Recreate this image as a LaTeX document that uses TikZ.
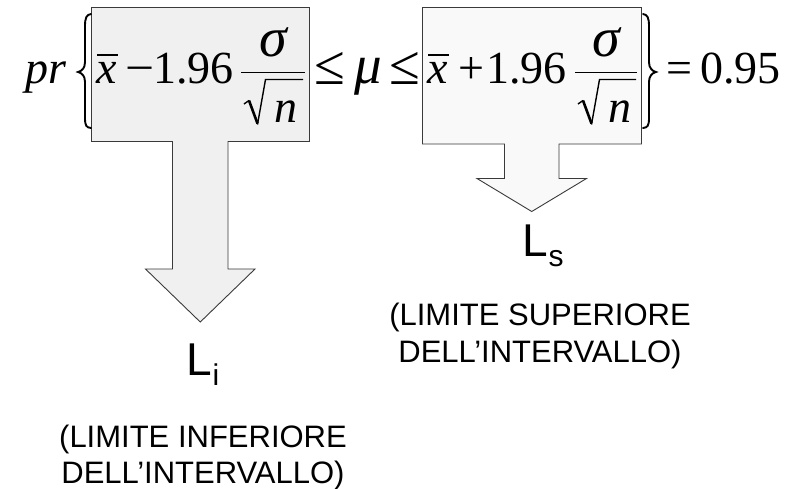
\documentclass[tikz,border=0pt]{standalone}
\usepackage{fontspec}
\setmainfont{Liberation Serif}
\newfontfamily\labelfont{Liberation Sans}
\definecolor{lbox}{HTML}{F0F0F0}
\definecolor{rbox}{HTML}{F9F9F9}
\definecolor{edge}{HTML}{3A3A3A}
\tikzset{
  blockarrow/.style={draw=edge, line width=0.9pt, line join=miter},
  formula/.style={font=\fontsize{46}{46}\selectfont, inner sep=0pt, anchor=base west},
  iformula/.style={font=\fontsize{46}{46}\selectfont\itshape, inner sep=0pt, anchor=base west},
  relsign/.style={font=\fontsize{56}{56}\selectfont, inner sep=0pt, anchor=base west},
  greek/.style={font=\fontsize{56}{56}\selectfont\itshape, inner sep=0pt, anchor=base},
  greekw/.style={font=\fontsize{55}{55}\selectfont\itshape, inner sep=0pt, anchor=base west},
  stroke/.style={line width=1.8pt, line cap=butt},
  thinstroke/.style={line width=1.4pt, line join=miter},
  bracestroke/.style={line width=1.9pt, line cap=round},
  biglabel/.style={font=\labelfont\fontsize{46}{46}\selectfont, inner sep=0pt, anchor=base west},
  sublabel/.style={font=\labelfont\fontsize{30}{30}\selectfont, inner sep=0pt, anchor=base west},
  notelabel/.style={font=\labelfont\fontsize{31}{31}\selectfont, inner sep=0pt, anchor=base}
}
\begin{document}
\begin{tikzpicture}[x=1pt,y=-1pt]
\useasboundingbox (0,0) rectangle (809,488);
\fill[white] (0,0) rectangle (809,488);

% block shapes (box + arrow)
\draw[blockarrow, fill=lbox] (91.5,7.5) -- (309.5,7.5) -- (309.5,141.5) -- (228,141.5) -- (228,269)
  -- (255,269) -- (200.25,322) -- (145.5,269) -- (172.5,269) -- (172.5,141.5) -- (91.5,141.5) -- cycle;
\draw[blockarrow, fill=rbox] (422.5,7.5) -- (641.5,7.5) -- (641.5,144) -- (559,144) -- (559,178.5)
  -- (586.5,178.5) -- (531.75,211.5) -- (477,178.5) -- (504.5,178.5) -- (504.5,144) -- (422.5,144) -- cycle;

% braces
\draw[bracestroke] (91,14) .. controls (86.5,14.5) and (85,18) .. (85,26) -- (85,62)
  .. controls (85,68) and (82,71) .. (78,72) .. controls (82,73) and (85,76) .. (85,82)
  -- (85,118) .. controls (85,126) and (86.5,127.5) .. (91,128);
\draw[bracestroke] (643,14) .. controls (647.5,14.5) and (649,18) .. (649,26) -- (649,62)
  .. controls (649,68) and (652,71) .. (656,72) .. controls (652,73) and (649,76) .. (649,82)
  -- (649,118) .. controls (649,126) and (647.5,127.5) .. (643,128);

% formula
\node[iformula] (pr) at (25,83.5) {pr};

\node[iformula] (xl) at (96,83.5) {x};
\draw[stroke] (97,55) -- (118,55);
\node[formula] (minus) at (125,83.5) {\scalebox{1.12}[1]{−}};
\node[formula] (cl) at (153,83.5) {1.96};
\node[greek] (sigl) at (273.5,56) {σ};
\draw[stroke] (241,72.5) -- (305,72.5);
\draw[thinstroke] (244,104) -- (249,100.5);
\draw[line width=2.6pt] (249,100.5) -- (257.5,123.5);
\draw[thinstroke] (257.5,124.5) -- (265.5,79.5) -- (303,79.5);
\node[iformula] (nl) at (274,122) {n};

\node[relsign] (le1) at (314,84) {≤};
\node[greekw] (mu) at (354,83.5) {μ};
\node[relsign] (le2) at (389,84) {≤};

\node[iformula] (xr) at (427,83.5) {x};
\draw[stroke] (428,55) -- (449,55);
\node[formula] (plus) at (458.5,83.5) {+};
\node[formula] (cr) at (486,83.5) {1.96};
\node[greek] (sigr) at (606.5,56) {σ};
\draw[stroke] (575,72.5) -- (637,72.5);
\draw[thinstroke] (578,104) -- (583,100.5);
\draw[line width=2.6pt] (583,100.5) -- (591.5,123.5);
\draw[thinstroke] (591.5,124.5) -- (599.5,79.5) -- (636,79.5);
\node[iformula] (nr) at (608,122) {n};

\node[formula] (eq) at (666,83.5) {=};
\node[formula] (val) at (700,83.5) {0.95};

% limit labels
\node[biglabel] (Li) at (186.6,375) {L};
\node[sublabel] (Lisub) at (212.5,385) {i};
\node[biglabel] (Ls) at (522.6,256) {L};
\node[sublabel] (Lssub) at (548.5,266) {s};

\node[notelabel] (inf1) at (203,447) {(LIMITE INFERIORE};
\node[notelabel] (inf2) at (203,483) {DELL’INTERVALLO)};
\node[notelabel] (sup1) at (540,325) {(LIMITE SUPERIORE};
\node[notelabel] (sup2) at (540,362) {DELL’INTERVALLO)};
\end{tikzpicture}
\end{document}
